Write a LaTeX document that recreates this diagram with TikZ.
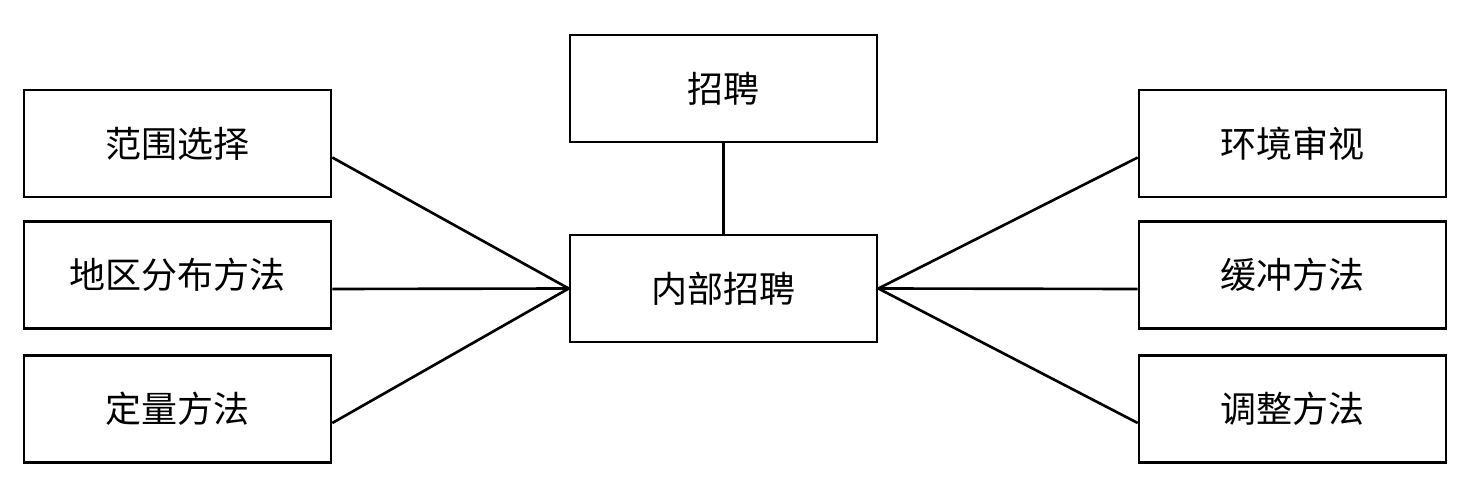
\documentclass[tikz,border=0pt]{standalone}
\usepackage{fontspec}
\newfontfamily\cjk{Noto Sans CJK SC}
\usepackage{tikz}
\usetikzlibrary{positioning}

\tikzset{
  box/.style={draw, line width=1.5pt, minimum width=6.14cm, minimum height=2.14cm,
    inner sep=0pt, font=\cjk\fontsize{20.5}{24}\selectfont},
  link/.style={line width=1.5pt}
}

\begin{document}
\begin{tikzpicture}

  \useasboundingbox (0,0) rectangle (29.6,9.64);

  % Centre column
  \node[box] (zhaopin) at (14.47,7.87) {招聘};
  \node[box] (neibu) at (14.47,3.87) {内部招聘};
  \draw[link] (zhaopin) -- (neibu);

  % Left column
  \node[box] (fanwei) at (3.55,6.77) {范围选择};
  \node[box] (diqu) at (3.55,4.14) {地区分布方法};
  \node[box] (dingliang) at (3.55,1.46) {定量方法};

  % Right column
  \node[box] (huanjing) at (25.85,6.77) {环境审视};
  \node[box] (huanchong) at (25.85,4.14) {缓冲方法};
  \node[box] (tiaozheng) at (25.85,1.46) {调整方法};

  % Links into the centre box
  \foreach \n in {fanwei, diqu, dingliang}
    \draw[link] ([yshift=-0.28cm]\n.east) -- (neibu.west);
  \foreach \n in {huanjing, huanchong, tiaozheng}
    \draw[link] ([yshift=-0.28cm]\n.west) -- (neibu.east);

\end{tikzpicture}
\end{document}
